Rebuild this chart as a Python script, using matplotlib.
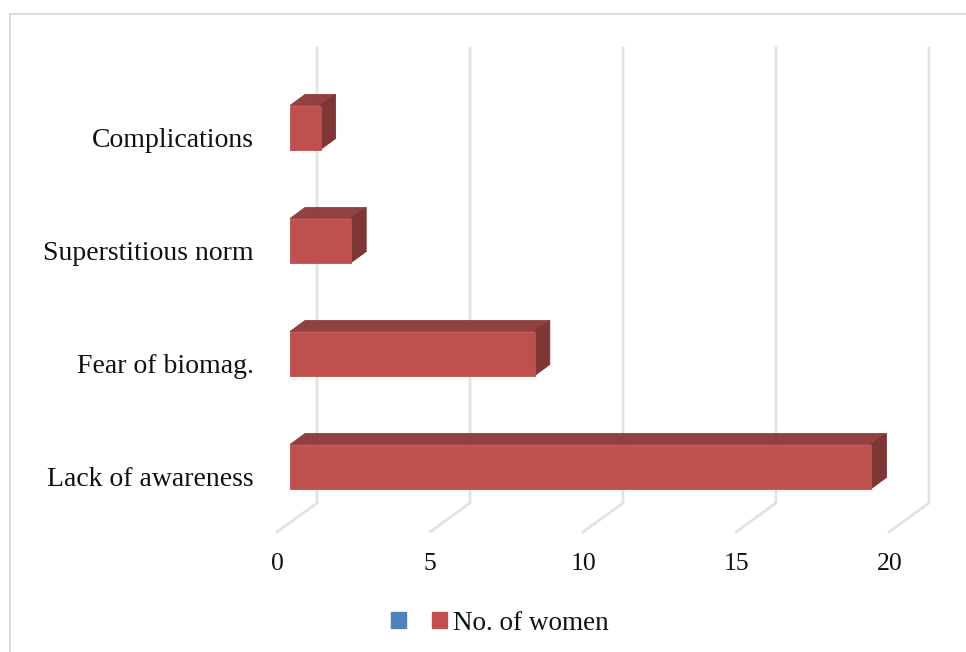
#!/usr/bin/env python3

import matplotlib
matplotlib.use('Agg')
from matplotlib import pyplot as plt
from matplotlib.patches import Patch, Polygon

categories = ['Lack of awareness', 'Fear of biomag.', 'Superstitious norm', 'Complications']
women = [19, 8, 2, 1]
x_ticks = [0, 5, 10, 15, 20]
legend_labels = ['', 'No. of women']

FRONT = '#C0504D'
TOP = '#8E3B39'
SIDE = '#7A302E'
GRID = '#E2E2E2'

# pixel scale of the picture: one unit = 30.6 px, one category = 113 px
W, H = 966, 652
PX_X, PX_Y = 30.6, 113.0
X0, Y0 = 290, 466.5

plt.rcParams['font.family'] = ['Liberation Serif', 'DejaVu Serif']

fig = plt.figure(figsize=(W / 100, H / 100), dpi=100)
ax = fig.add_axes([0, 0, 1, 1])
ax.set_xlim(-X0 / PX_X, (W - X0) / PX_X)
ax.set_ylim((Y0 - H) / PX_Y, Y0 / PX_Y)
ax.axis('off')

bar_h = 44 / PX_Y
dep_x = 15 / PX_X
dep_y = 11 / PX_Y

# walls and floor lines
back_dx = 27 / PX_X
front_dx = -13 / PX_X
floor_back = (Y0 - 503) / PX_Y
floor_front = (Y0 - 532) / PX_Y
wall_top = (Y0 - 48) / PX_Y
for t in x_ticks:
    ax.plot([t + back_dx, t + back_dx, t + front_dx],
            [wall_top, floor_back, floor_front],
            color=GRID, lw=1.9, zorder=1, solid_joinstyle='miter')
    ax.text(t + front_dx + 0.01, (Y0 - 564) / PX_Y, str(t), ha='center', va='center',
            fontsize=18.5, color='#111111')

# the bars, top and side then front face
for i, (name, v) in enumerate(zip(categories, women)):
    lo, hi = i - bar_h / 2, i + bar_h / 2
    ax.add_patch(Polygon([(0, hi), (dep_x, hi + dep_y), (v + dep_x, hi + dep_y), (v, hi)],
                         facecolor=TOP, edgecolor=TOP, lw=0.6, alpha=0.97, zorder=3))
    ax.add_patch(Polygon([(v, lo), (v, hi), (v + dep_x, hi + dep_y), (v + dep_x, lo + dep_y)],
                         facecolor=SIDE, edgecolor=SIDE, lw=0.6, alpha=0.97, zorder=3))
    ax.add_patch(Polygon([(0, lo), (v, lo), (v, hi), (0, hi)],
                         facecolor=FRONT, edgecolor=FRONT, lw=0.6, zorder=4))
    ax.text(-36 / PX_X, i - 13 / PX_Y, name, ha='right', va='center',
            fontsize=20, color='#111111')

# outer chart frame, cut by the picture on the right and at the bottom
ax.plot([10 / PX_X - X0 / PX_X] * 2 + [(W - X0) / PX_X],
        [(Y0 - H) / PX_Y, (Y0 - 14) / PX_Y, (Y0 - 14) / PX_Y],
        color='#DADADA', lw=1.4, zorder=1, solid_joinstyle='miter')

handles = [Patch(color='#4F81BD'), Patch(color=FRONT)]
fig.legend(handles, legend_labels, ncols=2, frameon=False, fontsize=19.5,
           loc='center', bbox_to_anchor=(500 / W, 1 - 623 / H),
           handlelength=0.55, handleheight=0.55, columnspacing=0.75,
           handletextpad=0.22, labelcolor='#111111')

fig.savefig('out.png', dpi=100)
